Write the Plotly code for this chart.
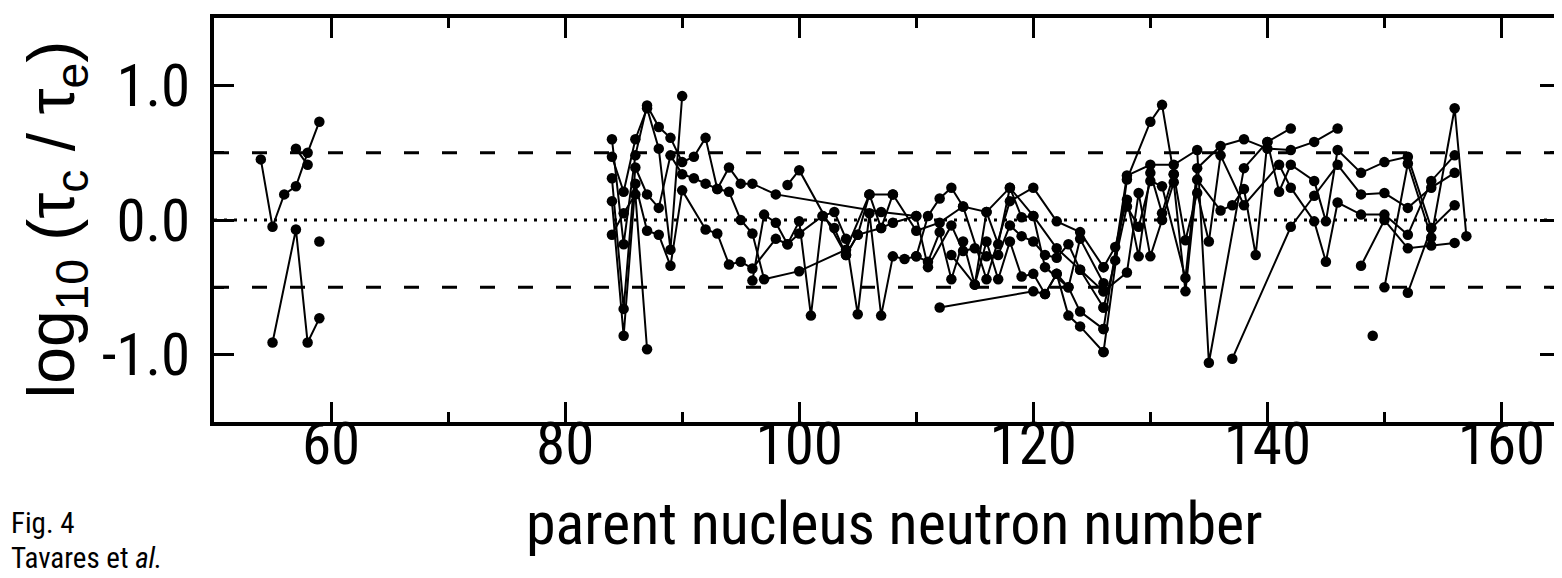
import plotly.graph_objects as go

# ---- data: parent neutron number N and log10(tau_c/tau_e) per isotope chain ----
L1_n = [54, 55, 56, 57, 58, 59]
L1_v = [0.45, -0.05, 0.19, 0.25, 0.50, 0.73]
L2_n = [57, 58]
L2_v = [0.53, 0.41]
L3_n = [55, 57, 58, 59]
L3_v = [-0.91, -0.07, -0.91, -0.73]
L4_n = [59]
L4_v = [-0.16]

M1_n = [84, 85, 86, 87, 88, 89, 90]
M1_v = [0.47, 0.21, 0.60, 0.83, 0.53, -0.22, 0.92]
M2_n = [84, 85, 86, 87, 88, 89, 90, 91, 92, 93, 94, 95, 96, 98, 107, 110]
M2_v = [0.60, -0.18, 0.48, 0.85, 0.69, 0.61, 0.43, 0.47, 0.61, 0.23, 0.39, 0.27, 0.27, 0.19, 0.06, 0.03]
M3_n = [84, 85, 86, 87, 88, 89, 90, 91, 92, 93, 94, 95, 96, 97, 100, 104, 106, 108, 110, 112, 114, 116, 118, 120, 122, 124, 126]
M3_v = [0.31, -0.66, 0.39, 0.19, 0.09, 0.48, 0.34, 0.31, 0.27, 0.23, 0.21, 0.00, -0.10, -0.44, -0.38, -0.22, 0.19, 0.19, -0.08, -0.02, 0.10, 0.06, 0.24, 0.03, -0.21, -0.37, -0.65]
M4_n = [84, 85, 86, 87, 88, 89, 90, 92, 93, 94, 95, 96, 98, 99, 100, 102, 103, 104, 105, 106, 107, 108, 109, 110, 111, 112, 113, 114, 115, 116, 117, 118, 119, 120, 121, 122, 123, 124, 126]
M4_v = [0.14, -0.86, 0.27, -0.08, -0.11, -0.34, 0.22, -0.07, -0.10, -0.33, -0.31, -0.36, -0.14, -0.18, -0.10, 0.03, 0.06, -0.14, -0.70, 0.05, -0.71, -0.27, -0.29, -0.27, -0.31, -0.09, -0.44, -0.16, -0.48, -0.16, -0.44, -0.16, -0.42, -0.40, -0.55, -0.40, -0.50, -0.68, -0.81]
M5_n = [84, 85, 86, 87]
M5_v = [-0.11, 0.05, 0.19, -0.96]
M6_n = [96, 97, 98, 99, 100, 101, 102, 103, 104, 105, 106, 107, 108]
M6_v = [-0.45, 0.04, -0.02, -0.18, -0.01, -0.71, 0.03, -0.06, -0.26, -0.11, 0.19, -0.06, 0.19]
M7_n = [99, 100, 104, 105, 107, 108, 110, 111, 113, 114, 115, 116, 117, 118, 119, 120, 121, 122, 123, 124, 126]
M7_v = [0.26, 0.37, -0.26, -0.11, -0.06, -0.02, 0.03, -0.35, -0.04, -0.23, -0.21, -0.27, -0.26, -0.04, -0.12, -0.16, -0.26, -0.28, -0.18, -0.37, -0.53]
M8_n = [110, 111, 112, 113, 114, 116, 118, 120, 122, 124, 126]
M8_v = [-0.27, 0.03, 0.16, 0.24, 0.10, -0.44, 0.14, 0.24, -0.01, -0.09, -0.35]
M9_n = [112, 120, 121, 122, 123, 124, 126]
M9_v = [-0.65, -0.53, -0.55, -0.40, -0.71, -0.79, -0.98]
M10_n = [113, 115, 116, 117, 118, 119, 120, 121, 123, 124, 126]
M10_v = [-0.26, -0.48, 0.06, -0.18, 0.24, 0.02, 0.03, -0.35, -0.50, -0.14, -0.47]

R1_n = [126, 128, 130, 131, 132]
R1_v = [-0.98, 0.30, 0.73, 0.855, 0.34]
R2_n = [126, 128, 130, 132, 134, 135, 138, 140, 142]
R2_v = [-0.81, 0.33, 0.41, 0.41, 0.52, -1.06, 0.385, 0.58, 0.68]
R3_n = [126, 127, 128, 129, 130, 131, 133, 134, 136, 138, 140, 142, 144, 146]
R3_v = [-0.65, -0.30, 0.10, -0.05, 0.29, 0.25, -0.43, 0.385, 0.55, 0.60, 0.53, 0.52, 0.58, 0.68]
R4_n = [126, 128, 129, 130, 131, 132, 133, 134, 136, 137, 138, 139, 140, 141, 142, 144, 145, 146, 148, 150, 152, 154]
R4_v = [-0.53, -0.39, 0.20, -0.27, 0.00, 0.28, -0.53, 0.30, 0.07, 0.11, 0.23, -0.26, 0.58, 0.21, 0.41, 0.29, -0.01, 0.52, 0.35, 0.43, 0.47, -0.06]
R5_n = [137, 142, 144, 146, 148, 150, 152, 154, 156]
R5_v = [-1.03, -0.05, 0.18, 0.41, 0.19, 0.20, 0.09, 0.24, 0.35]
R6_n = [126, 127, 128, 129, 130, 131, 132, 133, 134, 135, 136, 138, 141, 142, 144, 145, 146, 148, 150, 152, 154, 156]
R6_v = [-0.35, -0.20, 0.15, -0.27, 0.35, 0.05, 0.34, -0.15, 0.20, -0.16, 0.48, 0.11, 0.41, 0.24, -0.01, -0.31, 0.13, 0.04, 0.04, -0.11, 0.29, 0.48]
R7_n = [148, 150, 152, 154, 156]
R7_v = [-0.34, 0.00, -0.21, -0.19, -0.17]
R8_n = [150, 152, 154, 156, 157]
R8_v = [-0.50, 0.42, -0.13, 0.83, -0.12]
R9_n = [152, 154, 156]
R9_v = [-0.54, -0.06, 0.11]
R10_n = [149]
R10_v = [-0.86]

series = [
    (L1_n, L1_v), (L2_n, L2_v), (L3_n, L3_v), (L4_n, L4_v),
    (M1_n, M1_v), (M2_n, M2_v), (M3_n, M3_v), (M4_n, M4_v), (M5_n, M5_v),
    (M6_n, M6_v), (M7_n, M7_v), (M8_n, M8_v), (M9_n, M9_v), (M10_n, M10_v),
    (R1_n, R1_v), (R2_n, R2_v), (R3_n, R3_v), (R4_n, R4_v), (R5_n, R5_v),
    (R6_n, R6_v), (R7_n, R7_v), (R8_n, R8_v), (R9_n, R9_v), (R10_n, R10_v),
]

ref_levels = [0.5, 0.0, -0.5]
ref_dash = ["15px,23px", "3px,7px", "15px,23px"]

X_RANGE = [50, 165]
Y_RANGE = [-1.5, 1.5]
Y_TICKVALS = [-1.0, 0.0, 1.0]
Y_TICKTEXT = ["-1.0", "0.0", "1.0"]

NARROW = "Roboto Condensed, Liberation Sans Narrow, DejaVu Sans Condensed, Liberation Sans"

fig = go.Figure()

for lvl, dsh in zip(ref_levels, ref_dash):
    fig.add_trace(go.Scatter(
        x=X_RANGE, y=[lvl, lvl], mode="lines",
        line=dict(color="black", width=3, dash=dsh),
        hoverinfo="skip", showlegend=False))

for n, v in series:
    fig.add_trace(go.Scatter(
        x=n, y=v, mode="lines+markers",
        line=dict(color="black", width=2),
        marker=dict(color="black", size=10.5),
        showlegend=False))

TICKFONT = dict(family=NARROW, size=59, color="black")

fig.update_layout(
    width=1562, height=578,
    margin=dict(l=206, r=6, t=8, b=164),
    paper_bgcolor="white", plot_bgcolor="white",
    showlegend=False,
    xaxis=dict(
        range=X_RANGE, tick0=0, dtick=20, ticks="inside", ticklen=20, tickwidth=3,
        tickcolor="black", showline=True, linewidth=4, linecolor="black",
        mirror="allticks", showgrid=False, zeroline=False, tickfont=TICKFONT,
        ticklabelstandoff=-33,
        minor=dict(dtick=10, tick0=0, ticks="inside", ticklen=10, tickwidth=3, tickcolor="black", showgrid=False),
    ),
    yaxis=dict(
        range=Y_RANGE, tickmode="array", tickvals=Y_TICKVALS, ticktext=Y_TICKTEXT,
        ticks="inside", ticklen=20, tickwidth=3,
        tickcolor="black", showline=True, linewidth=4, linecolor="black",
        mirror="allticks", showgrid=False, zeroline=False, tickfont=TICKFONT,
        ticklabelstandoff=8,
        minor=dict(dtick=0.5, tick0=0, ticks="inside", ticklen=10, tickwidth=3, tickcolor="black", showgrid=False),
    ),
)

fig.add_annotation(
    xref="paper", yref="paper", x=(48 - 206) / 1350, y=(414 - 210) / 406,
    text="log<sub>10</sub> (τ<sub>c</sub> / τ<sub>e</sub>)", textangle=-90,
    showarrow=False, xanchor="center", yanchor="middle",
    font=dict(family="Liberation Sans, Arial", size=66, color="black"))

fig.add_annotation(
    xref="paper", yref="paper", x=(888 - 206) / 1350, y=(414 - 516) / 406,
    text="parent nucleus neutron number", showarrow=False,
    xanchor="center", yanchor="middle",
    font=dict(family=NARROW, size=60, color="black"))

fig.add_annotation(
    xref="paper", yref="paper", x=(0 - 206) / 1350, y=(414 - 515) / 406,
    text="Fig. 4", showarrow=False, xanchor="left", yanchor="middle",
    font=dict(family=NARROW, size=29, color="black"))

fig.add_annotation(
    xref="paper", yref="paper", x=(0 - 206) / 1350, y=(414 - 551) / 406,
    text="Tavares et <i>al.</i>", showarrow=False, xanchor="left", yanchor="middle",
    font=dict(family=NARROW, size=29, color="black"))

fig.write_html("out.html")
